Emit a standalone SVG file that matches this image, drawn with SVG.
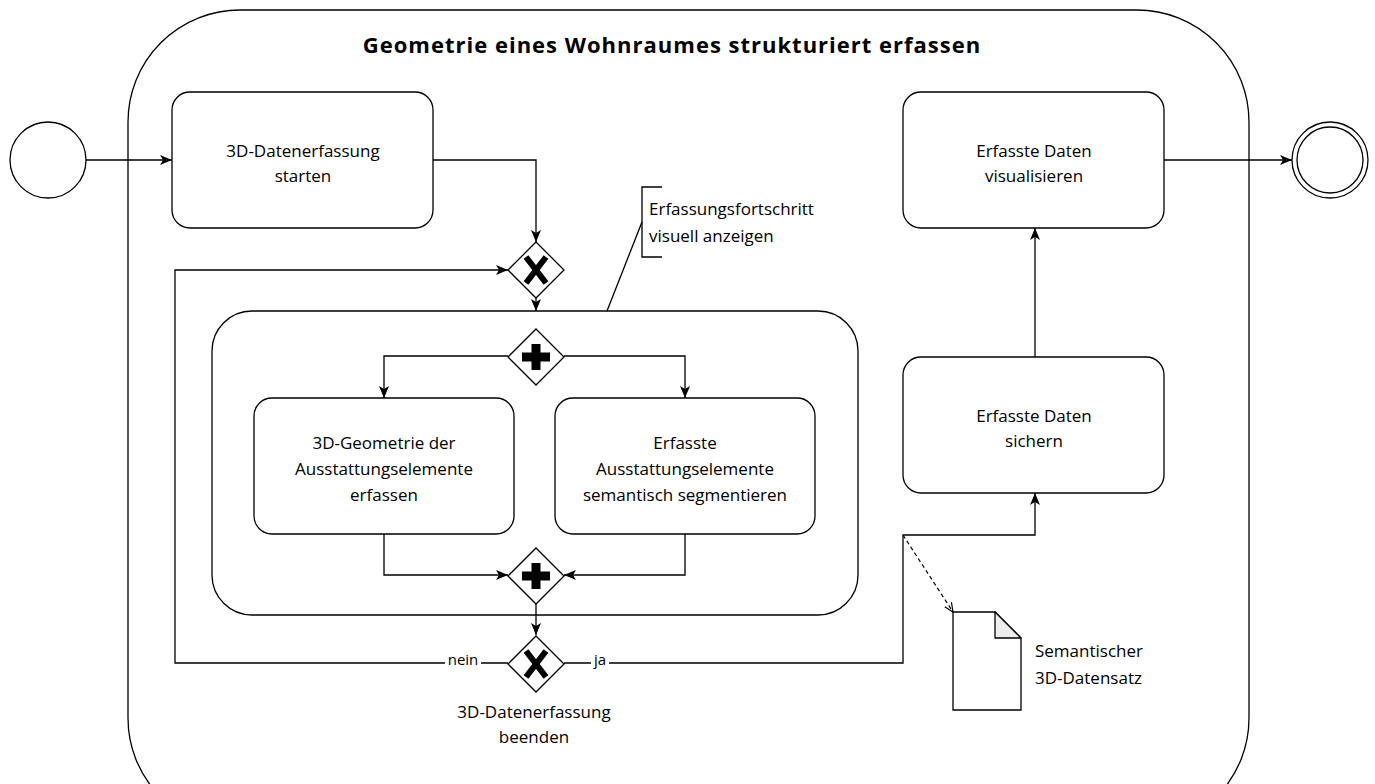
<svg xmlns="http://www.w3.org/2000/svg" width="1375" height="784" viewBox="0 0 1375 784">
  <style>
    .shape { fill: #ffffff; stroke: #000000; stroke-width: 1.3; }
    .flow { fill: none; stroke: #000000; stroke-width: 1.3; }
    .assoc { fill: none; stroke: #000000; stroke-width: 1.2; stroke-dasharray: 4 3; }
    .lbl { font-family: "Open Sans", "Noto Sans", sans-serif; font-size: 17px; fill: #000000; }
    .mid { text-anchor: middle; }
    .edge { font-family: "Open Sans", "Noto Sans", sans-serif; font-size: 15px; fill: #000000; }
    .title { font-family: "Open Sans", "Noto Sans", sans-serif; font-size: 22px; font-weight: bold; letter-spacing: 1px; text-anchor: middle; }
  </style>
  <defs>
    <marker id="arrow" viewBox="0 0 12 10" refX="12" refY="5" markerWidth="12" markerHeight="10" markerUnits="userSpaceOnUse" orient="auto">
      <path d="M0,0 L12,5 L0,10 L3,5 Z" fill="#000000"/>
    </marker>
    <marker id="openArrow" viewBox="0 0 10 10" refX="9" refY="5" markerWidth="10" markerHeight="10" markerUnits="userSpaceOnUse" orient="auto">
      <path d="M0,1 L9,5 L0,9" fill="none" stroke="#000000" stroke-width="1.2"/>
    </marker>
    <g id="xmark">
      <path d="M-10,-13 L10,13 M10,-13 L-10,13" stroke="#000000" stroke-width="6" fill="none"/>
    </g>
    <g id="plusmark">
      <path d="M-4.5,-13 H4.5 V-4.5 H14 V4.5 H4.5 V13 H-4.5 V4.5 H-14 V-4.5 H-4.5 Z" fill="#000000"/>
    </g>
  </defs>

  <!-- outer process container -->
  <g id="process">
    <rect class="shape" x="128" y="10" width="1121" height="820" rx="112" ry="112"/>
    <text class="title" x="672" y="53">Geometrie eines Wohnraumes strukturiert erfassen</text>
  </g>

  <!-- inner subprocess container -->
  <g id="subprocess">
    <rect class="shape" x="212" y="311" width="646" height="304" rx="40" ry="40"/>
  </g>

  <!-- connectors -->
  <g id="connectors">
    <path class="flow" d="M86,160 H172" marker-end="url(#arrow)"/>
    <path class="flow" d="M433,160 H536 V242" marker-end="url(#arrow)"/>
    <path class="flow" d="M536,297 V311" marker-end="url(#arrow)"/>
    <path class="flow" d="M508,356 H384 V398" marker-end="url(#arrow)"/>
    <path class="flow" d="M564,356 H685 V398" marker-end="url(#arrow)"/>
    <path class="flow" d="M384,534 V575 H508" marker-end="url(#arrow)"/>
    <path class="flow" d="M685,534 V575 H564" marker-end="url(#arrow)"/>
    <path class="flow" d="M536,603 V635" marker-end="url(#arrow)"/>
    <path class="flow" d="M508,663 H175 V270 H508" marker-end="url(#arrow)"/>
    <path class="flow" d="M564,663 H903 V535 H1035 V493" marker-end="url(#arrow)"/>
    <path class="flow" d="M1035,357 V228" marker-end="url(#arrow)"/>
    <path class="flow" d="M1164,160 H1292" marker-end="url(#arrow)"/>
    <path class="assoc" d="M903,535 L953,612" marker-end="url(#openArrow)"/>
    <path class="flow" d="M642,222 L607,311"/>
    <!-- edge labels -->
    <rect x="445" y="654" width="36" height="18" fill="#ffffff"/>
    <text class="edge" x="463" y="665" text-anchor="middle">nein</text>
    <rect x="591" y="654" width="18" height="18" fill="#ffffff"/>
    <text class="edge" x="600" y="665" text-anchor="middle">ja</text>
  </g>

  <!-- events -->
  <g id="start-event">
    <circle class="shape" cx="48" cy="160" r="38"/>
  </g>
  <g id="end-event">
    <circle class="shape" cx="1330" cy="160" r="38"/>
    <circle class="shape" cx="1330" cy="160" r="33"/>
  </g>

  <!-- tasks -->
  <g id="task-start">
    <rect class="shape" x="172" y="92" width="261" height="136" rx="18" ry="18"/>
    <text class="lbl mid" x="303" y="157">3D-Datenerfassung</text>
    <text class="lbl mid" x="303" y="182">starten</text>
  </g>
  <g id="task-visualize">
    <rect class="shape" x="903" y="92" width="261" height="136" rx="18" ry="18"/>
    <text class="lbl mid" x="1034" y="157">Erfasste Daten</text>
    <text class="lbl mid" x="1034" y="182">visualisieren</text>
  </g>
  <g id="task-save">
    <rect class="shape" x="903" y="357" width="261" height="136" rx="18" ry="18"/>
    <text class="lbl mid" x="1034" y="422">Erfasste Daten</text>
    <text class="lbl mid" x="1034" y="447">sichern</text>
  </g>
  <g id="task-geometry">
    <rect class="shape" x="254" y="398" width="260" height="136" rx="18" ry="18"/>
    <text class="lbl mid" x="384" y="449">3D-Geometrie der</text>
    <text class="lbl mid" x="384" y="475">Ausstattungselemente</text>
    <text class="lbl mid" x="384" y="501">erfassen</text>
  </g>
  <g id="task-segment">
    <rect class="shape" x="555" y="398" width="260" height="136" rx="18" ry="18"/>
    <text class="lbl mid" x="685" y="449">Erfasste</text>
    <text class="lbl mid" x="685" y="475">Ausstattungselemente</text>
    <text class="lbl mid" x="685" y="501">semantisch segmentieren</text>
  </g>

  <!-- gateways -->
  <g id="gateway-loop">
    <polygon class="shape" points="536,242 564,270 536,298 508,270"/>
    <use href="#xmark" x="536" y="270"/>
  </g>
  <g id="gateway-split">
    <polygon class="shape" points="536,329 564,357 536,385 508,357"/>
    <use href="#plusmark" x="536" y="357"/>
  </g>
  <g id="gateway-join">
    <polygon class="shape" points="536,548 564,576 536,604 508,576"/>
    <use href="#plusmark" x="536" y="576"/>
  </g>
  <g id="gateway-finish">
    <polygon class="shape" points="536,636 564,664 536,692 508,664"/>
    <use href="#xmark" x="536" y="664"/>
    <text class="lbl mid" x="534" y="718">3D-Datenerfassung</text>
    <text class="lbl mid" x="534" y="743">beenden</text>
  </g>

  <!-- annotation -->
  <g id="annotation">
    <path class="flow" d="M662,187 H642 V257 H662"/>
    <text class="lbl" x="649" y="215">Erfassungsfortschritt</text>
    <text class="lbl" x="649" y="242">visuell anzeigen</text>
  </g>

  <!-- data object -->
  <g id="data-object">
    <path class="shape" d="M953,612 H995 L1021,638 V710 H953 Z"/>
    <path d="M995,612 V638 H1021 Z" fill="#eeeeee" stroke="#000000" stroke-width="1.3" stroke-linejoin="round"/>
    <text class="lbl" x="1035" y="657">Semantischer</text>
    <text class="lbl" x="1035" y="684">3D-Datensatz</text>
  </g>
</svg>
